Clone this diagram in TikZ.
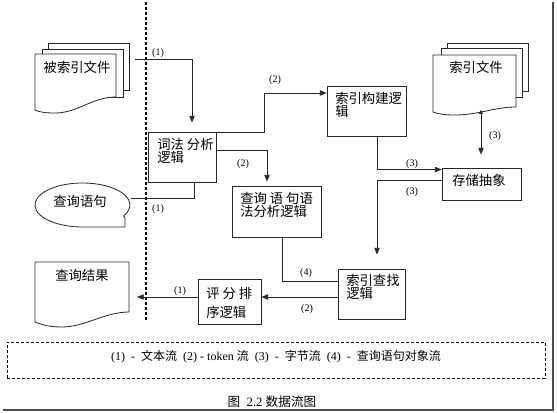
\documentclass[tikz,border=0pt]{standalone}
\usepackage{fontspec}
\setmainfont{Liberation Serif}
\newfontfamily\cjk{Noto Sans CJK SC}
\usetikzlibrary{arrows.meta,fit,calc}
\begin{document}
\begin{tikzpicture}[x=0.75pt,y=-0.75pt,
  box/.style={draw=black!85, line width=0.65pt, inner sep=0pt},
  page/.style={draw=black!85, line width=0.6pt, fill=white},
  flow/.style={draw=black!85, line width=0.6pt},
  arr/.style={flow, -{Triangle[length=5pt,width=4pt]}},
  darr/.style={flow, {Triangle[length=3pt,width=3pt]}-{Triangle[length=5pt,width=4pt]}},
  lbl/.style={font=\fontsize{7.5}{8}\selectfont, inner sep=0pt},
  zh/.style={font=\cjk\fontsize{10}{10}\selectfont, inner sep=0pt},
  txt/.style={zh, align=left, anchor=north west},
]
\useasboundingbox (0,0) rectangle (557,413);

% frame shadow
\draw[gray!60!black, line width=1.5pt] (3,410) -- (553,410) -- (553,2);

% divider
\draw[line width=0.8pt, dash pattern=on 2.25pt off 1.5pt] (146,2) -- (146,320);

% document stack: 被索引文件
\draw[page] (48,43) rectangle (129,90);
\draw[page] (42,49) rectangle (123,97);
\draw[page] (35,54) -- (116,54) -- (116,97) .. controls (92,97) and (78,113) .. (55,113) .. controls (45,113) and (39,112) .. (35,110) -- cycle;
\node[zh] (doc1t) at (77,67) {被索引文件};
\coordinate (d1out) at (135,59);

% document stack: 索引文件
\draw[page] (447,43) rectangle (528,91);
\draw[page] (441,48) rectangle (522,97);
\draw[page] (433,55) -- (516,55) -- (516,107) .. controls (495,107) and (478,115) .. (455,115) .. controls (445,115) and (438,114) .. (433,112) -- cycle;
\node[zh] (doc2t) at (476,67) {索引文件};
\coordinate (d2out) at (481,110);

% document: 查询结果
\draw[page] (35,262) -- (129,262) -- (129,312) .. controls (105,312) and (85,327) .. (62,327) .. controls (48,327) and (40,324) .. (35,322) -- cycle;
\node[zh] (doc3t) at (82,275) {查询结果};
\coordinate (d3in) at (137,297);

% tape: 查询语句
\draw[page] (123.6,216) arc[start angle=30, end angle=-270, x radius=47.5, y radius=22] -- (125,227) -- (125,218) -- cycle;
\node[zh] (tapet) at (80,201) {查询语句};
\coordinate (qout) at (131,198);

% boxes
\node[box, fit={(148,132)(216,182)}] (lex) {};
\node[txt] (lext) at (157,138) {词法 分析\\逻辑};
\node[box, fit={(327,86)(406,136)}] (build) {};
\node[txt] (buildt) at (335,92) {索引构建逻\\辑};
\node[box, fit={(232,186)(321,237)}] (qsyn) {};
\node[txt] (qsynt) at (240,192) {查询 语 句语\\法分析逻辑};
\node[box, fit={(442,168)(521,200)}] (store) {};
\node[txt] (storet) at (452,174) {存储抽象};
\node[box, fit={(338,269)(405,319)}] (search) {};
\node[txt] (searcht) at (346,274) {索引查找\\逻辑};
\node[box, fit={(198,279)(261,324)}] (score) {};
\node[txt] (scoret) at (206,287) {评 分 排\\[4pt]序逻辑};

% connectors
\draw[arr, shorten >=6.75pt] (d1out) -| ($(lex.north)+(10,0)$);
\node[lbl] (l1) at (158,53) {(1)};
\draw[flow] (qout) -| ($(lex.south)+(12,0)$);
\node[lbl] (l2) at (158,209) {(1)};
\draw[arr] ($(lex.north east)+(0,1)$) -| ($(build.west)+(-62,-18)$) -- ($(build.west)+(0,-18)$);
\node[lbl] (l3) at (275,80) {(2)};
\draw[arr, shorten >=3pt] ($(lex.east)+(0,-7)$) -| ($(qsyn.north)+(-9.5,0)$);
\node[lbl] (l4) at (243,164) {(2)};
\draw[arr] ($(build.south)+(10.5,0)$) |- ($(store.north west)+(0,2)$);
\node[lbl] (l5) at (412,164) {(3)};
\draw[arr, shorten >=10.5pt] ($(store.west)+(0,-4)$) -| ($(search.north)+(5.5,0)$);
\node[lbl] (l6) at (412,192) {(3)};
\draw[darr, shorten >=9.75pt] (d2out) -- (d2out |- store.north);
\node[lbl] (l7) at (495,136) {(3)};
\draw[flow] ($(qsyn.south)+(5.5,0)$) |- ($(search.west)+(0,-13)$);
\node[lbl] (l8) at (306,273) {(4)};
\draw[arr] ($(search.west)+(0,3)$) -- ($(score.east)+(0,-4.5)$);
\node[lbl] (l9) at (307,309) {(2)};
\draw[arr] ($(score.west)+(0,-4.5)$) -- (d3in);
\node[lbl] (l10) at (180,291) {(1)};

% legend
\node[draw, line width=0.7pt, dash pattern=on 2.25pt off 1.5pt, inner sep=0pt, fit={(7,342)(545,378)}] (legend) {};
\node[font=\fontsize{9}{9}\selectfont, inner sep=0pt] (legendt) at (276,357)
  {(1)\ \ -\ \ {\cjk 文本流}\ \ (2)\ -\ token\ {\cjk 流}\ \ (3)\ \ -\ \ {\cjk 字节流}\ \ (4)\ \ -\ \ {\cjk 查询语句对象流}};

% caption
\node[font=\fontsize{9.5}{10}\selectfont, inner sep=0pt] (caption) at (272,402) {{\cjk 图}\ \ 2.2\ {\cjk 数据流图}};
\end{tikzpicture}
\end{document}
